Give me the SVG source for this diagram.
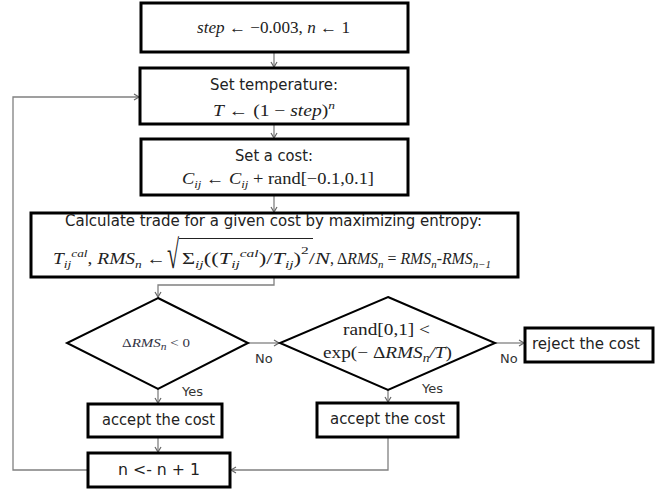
<svg xmlns="http://www.w3.org/2000/svg" width="664" height="492" viewBox="0 0 664 492">
<style>
.box{fill:#fff;stroke:#000;stroke-width:3}
.dia{fill:#fff;stroke:#000;stroke-width:2}
.con{fill:none;stroke:#808080;stroke-width:1.3}
.sans{font-family:"DejaVu Sans",Verdana,sans-serif;font-size:15px;fill:#222}
.math{font-family:"Liberation Serif","Times New Roman",serif;font-size:16px;fill:#222}
.i{font-style:italic}
.lab{font-family:"DejaVu Sans",Verdana,sans-serif;font-size:13px;fill:#333}
</style>
<defs>
<marker id="ar" markerWidth="8" markerHeight="8" refX="6" refY="4" orient="auto" markerUnits="userSpaceOnUse"><path d="M1,1 L6,4 L1,7" fill="none" stroke="#666" stroke-width="1.2"/></marker>
</defs>
<rect width="664" height="492" fill="#fff"/>
<g id="connectors">
<path class="con" d="M274,52 V67" marker-end="url(#ar)"/>
<path class="con" d="M274,124 V138" marker-end="url(#ar)"/>
<path class="con" d="M274,195 V212" marker-end="url(#ar)"/>
<path class="con" d="M274,277 V285 H158 V297" marker-end="url(#ar)"/>
<path class="con" d="M248,343 H279" marker-end="url(#ar)"/>
<path class="con" d="M495,343 H524" marker-end="url(#ar)"/>
<path class="con" d="M158,389 V403" marker-end="url(#ar)"/>
<path class="con" d="M388,390 V402" marker-end="url(#ar)"/>
<path class="con" d="M158,437 V452" marker-end="url(#ar)"/>
<path class="con" d="M388,437 V470 H231" marker-end="url(#ar)"/>
<path class="con" d="M88,470 H13 V97 H139" marker-end="url(#ar)"/>
<text class="lab" x="255" y="363">No</text>
<text class="lab" x="182" y="396">Yes</text>
<text class="lab" x="500" y="363">No</text>
<text class="lab" x="422" y="393">Yes</text>
</g>
<g id="init">
<rect class="box" x="141" y="3" width="267" height="49"/>
<text class="math" x="197" y="33" textLength="153" lengthAdjust="spacingAndGlyphs"><tspan class="i">step</tspan> ← −0.003, <tspan class="i">n</tspan> ← 1</text>
</g>
<g id="temperature">
<rect class="box" x="140" y="68" width="268" height="56"/>
<text class="sans" x="210" y="90" textLength="128" lengthAdjust="spacingAndGlyphs">Set temperature:</text>
<text class="math" x="213" y="116" textLength="122" lengthAdjust="spacingAndGlyphs"><tspan class="i">T</tspan> ← (1 − <tspan class="i">step</tspan>)<tspan class="i" font-size="11" dy="-7">n</tspan></text>
</g>
<g id="cost">
<rect class="box" x="141" y="139" width="267" height="56"/>
<text class="sans" x="235" y="161" textLength="78" lengthAdjust="spacingAndGlyphs">Set a cost:</text>
<text class="math" x="182" y="184" textLength="192" lengthAdjust="spacingAndGlyphs"><tspan class="i">C</tspan><tspan class="i" font-size="11" dy="4">ij</tspan><tspan dy="-4"> ← </tspan><tspan class="i">C</tspan><tspan class="i" font-size="11" dy="4">ij</tspan><tspan dy="-4"> + rand[−0.1,0.1]</tspan></text>
</g>
<g id="calculate">
<rect class="box" x="31" y="213" width="487" height="64"/>
<text class="sans" x="65" y="226" textLength="417" lengthAdjust="spacingAndGlyphs">Calculate trade for a given cost by maximizing entropy:</text>
<text class="math" x="53" y="264" textLength="113" lengthAdjust="spacingAndGlyphs"><tspan class="i">T</tspan><tspan class="i" font-size="11" dy="4">ij</tspan><tspan class="i" font-size="11" dy="-11">cal</tspan><tspan dy="7">, </tspan><tspan class="i">RMS</tspan><tspan class="i" font-size="11" dy="4">n</tspan><tspan dy="-4"> ←</tspan></text>
<text class="math" x="0" y="0" style="font-size:40px" transform="translate(167,268) scale(0.55,1)">√</text>
<line x1="179" y1="238.5" x2="313" y2="238.5" stroke="#222" stroke-width="1"/>
<text class="math" x="182" y="264" textLength="148" lengthAdjust="spacingAndGlyphs">Σ<tspan class="i" font-size="11" dy="4">ij</tspan><tspan dy="-4">((</tspan><tspan class="i">T</tspan><tspan class="i" font-size="11" dy="4">ij</tspan><tspan class="i" font-size="11" dy="-11">cal</tspan><tspan dy="7">)/</tspan><tspan class="i">T</tspan><tspan class="i" font-size="11" dy="4">ij</tspan><tspan dy="-4">)</tspan><tspan font-size="11" dy="-10">2</tspan><tspan dy="10">/</tspan><tspan class="i">N</tspan></text>
<text class="math" x="330" y="264" textLength="161" lengthAdjust="spacingAndGlyphs">, Δ<tspan class="i">RMS</tspan><tspan class="i" font-size="11" dy="4">n</tspan><tspan dy="-4"> = </tspan><tspan class="i">RMS</tspan><tspan class="i" font-size="11" dy="4">n</tspan><tspan dy="-4">-</tspan><tspan class="i">RMS</tspan><tspan class="i" font-size="11" dy="4">n−1</tspan></text>
</g>
<g id="decision1">
<polygon class="dia" points="158,298 248,343 158,389 67,343"/>
<text class="math" x="122" y="347" style="font-size:13px;fill:#334" textLength="68" lengthAdjust="spacingAndGlyphs">Δ<tspan class="i">RMS</tspan><tspan class="i" font-size="10" dy="3">n</tspan><tspan dy="-3"> &lt; 0</tspan></text>
</g>
<g id="decision2">
<polygon class="dia" points="388,297 495,343 388,390 280,343"/>
<text class="math" x="343" y="335" style="font-size:17px" textLength="87" lengthAdjust="spacingAndGlyphs">rand[0,1] &lt;</text>
<text class="math" x="323" y="358" style="font-size:17px" textLength="129" lengthAdjust="spacingAndGlyphs">exp(− Δ<tspan class="i">RMS</tspan><tspan class="i" font-size="12" dy="4">n</tspan><tspan class="i" dy="-4">/T</tspan>)</text>
</g>
<g id="reject">
<rect class="box" x="525" y="328" width="128" height="34"/>
<text class="sans" x="532" y="349" textLength="108" lengthAdjust="spacingAndGlyphs">reject the cost</text>
</g>
<g id="accept2">
<rect class="box" x="317" y="403" width="141" height="34"/>
<text class="sans" x="330" y="424" textLength="115" lengthAdjust="spacingAndGlyphs">accept the cost</text>
</g>
<g id="accept1">
<rect class="box" x="88" y="404" width="134" height="33"/>
<text class="sans" x="102" y="425" textLength="113" lengthAdjust="spacingAndGlyphs">accept the cost</text>
</g>
<g id="increment">
<rect class="box" x="88" y="453" width="142" height="34"/>
<text class="sans" x="118" y="475" textLength="82" lengthAdjust="spacingAndGlyphs">n &lt;- n + 1</text>
</g>
</svg>
